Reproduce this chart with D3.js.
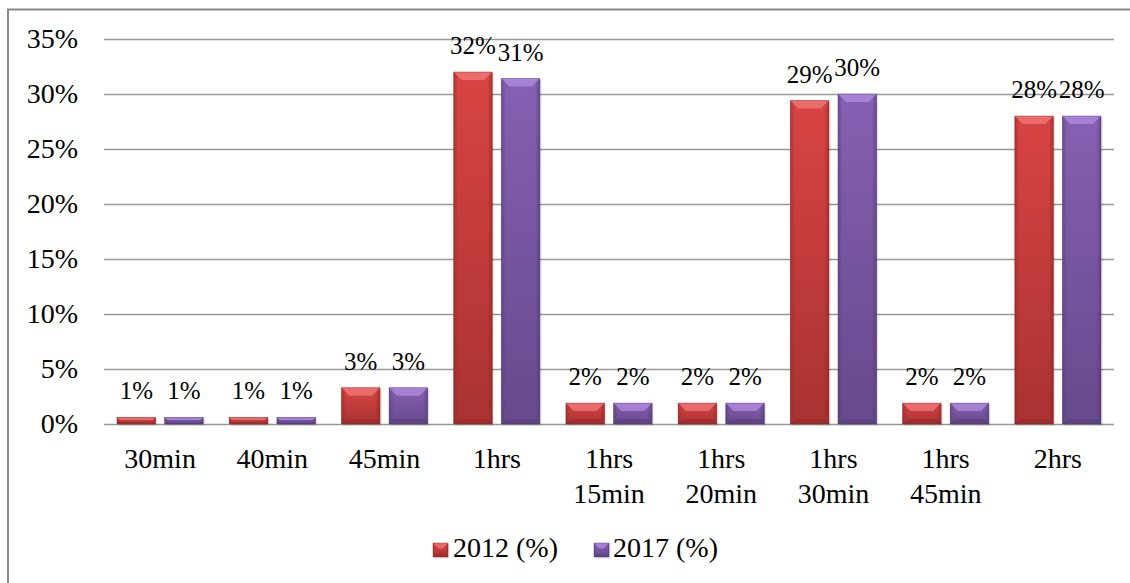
<!DOCTYPE html>
<html><head><meta charset="utf-8">
<script src="https://cdn.jsdelivr.net/npm/d3@7"></script>
</head>
<body style="margin:0;background:#fff">
<svg id="chart" width="1130" height="583"></svg>
<script>
const categories = ["30min","40min","45min","1hrs","1hrs 15min","1hrs 20min","1hrs 30min","1hrs 45min","2hrs"];
const seriesNames = ["2012 (%)","2017 (%)"];
const values2012 = [0.6, 0.6, 3.3, 32.0, 1.9, 1.9, 29.4, 1.9, 28.0];
const values2017 = [0.6, 0.6, 3.3, 31.4, 1.9, 1.9, 30.0, 1.9, 28.0];
const yTicks = [0, 5, 10, 15, 20, 25, 30, 35];

const fontNames = ["Liberation Serif"];
const FONT = fontNames.map(f=>"'"+f+"'").join(",");

const colors = {
  "2012 (%)": {top:"#f07a7a", main1:"#d94444", main2:"#a93232", side:"#8e2626"},
  "2017 (%)": {top:"#b18ce0", main1:"#8660b3", main2:"#664a8c", side:"#523a73"}
};

const svg = d3.select("#chart");
const defs = svg.append("defs");
seriesNames.forEach((s,i)=>{
  const g = defs.append("linearGradient").attr("id","g"+i).attr("x1",0).attr("y1",0).attr("x2",0).attr("y2",1);
  g.append("stop").attr("offset","0%").attr("stop-color",colors[s].main1);
  g.append("stop").attr("offset","100%").attr("stop-color",colors[s].main2);
  const h = defs.append("linearGradient").attr("id","h"+i).attr("x1",0).attr("y1",0).attr("x2",1).attr("y2",0);
  h.append("stop").attr("offset","0%").attr("stop-color",colors[s].side).attr("stop-opacity",0.55);
  h.append("stop").attr("offset","12%").attr("stop-color",colors[s].side).attr("stop-opacity",0);
  h.append("stop").attr("offset","88%").attr("stop-color",colors[s].side).attr("stop-opacity",0);
  h.append("stop").attr("offset","100%").attr("stop-color",colors[s].side).attr("stop-opacity",0.65);
});

svg.append("rect").attr("x",8).attr("y",9.5).attr("width",1140).attr("height",600)
  .attr("fill","none").attr("stroke","#8a8a8a").attr("stroke-width",2);

const left = 104, right = 1114, y0 = 424, yTop = 39;
const x = d3.scaleBand().domain(categories).range([left,right]).paddingInner(0).paddingOuter(0);
const bw = x.bandwidth();
const x1 = d3.scaleBand().domain(seriesNames).range([13, bw-13]).paddingInner(0.19).paddingOuter(0);
const y = d3.scaleLinear().domain([0,35]).range([y0,yTop]);

svg.append("g").selectAll("line").data(yTicks).join("line")
  .attr("x1",left).attr("x2",right)
  .attr("y1",d=>Math.round(y(d))+0.5).attr("y2",d=>Math.round(y(d))+0.5)
  .attr("stroke","#989898").attr("stroke-width",1.3);

svg.append("g").selectAll("text").data(yTicks).join("text")
  .style("font-family",FONT)
  .attr("x",78).attr("y",d=>y(d)+9).attr("text-anchor","end")
  .attr("font-size",28).text(d=>d+"%");

const data = [];
categories.forEach((c,i)=>{
  data.push({cat:c, s:seriesNames[0], si:0, v:values2012[i]});
  data.push({cat:c, s:seriesNames[1], si:1, v:values2017[i]});
});

function drawBevelBar(g, bx, by, w, h, si, s){
  const b = Math.min(8, h/2.6);
  g.append("rect").attr("x",bx+1.5).attr("y",by+1.5).attr("width",w).attr("height",h)
    .attr("fill","#000").attr("opacity",0.12);
  g.append("rect").attr("x",bx).attr("y",by).attr("width",w).attr("height",h).attr("fill","url(#g"+si+")");
  g.append("rect").attr("x",bx).attr("y",by).attr("width",w).attr("height",h).attr("fill","url(#h"+si+")");
  g.append("polygon").attr("points",[[bx,by],[bx+w,by],[bx+w-b,by+b],[bx+b,by+b]].map(p=>p.join(",")).join(" "))
    .attr("fill",colors[s].top).attr("opacity",0.75);
  g.append("polygon").attr("points",[[bx,by+h],[bx+w,by+h],[bx+w-b*0.6,by+h-b*0.6],[bx+b*0.6,by+h-b*0.6]].map(p=>p.join(",")).join(" "))
    .attr("fill",colors[s].side).attr("opacity",0.45);
  g.append("rect").attr("x",bx).attr("y",by).attr("width",w).attr("height",h)
    .attr("fill","none").attr("stroke",colors[s].side).attr("stroke-opacity",0.5).attr("stroke-width",0.8);
}

const barsG = svg.append("g");
data.forEach(d=>{
  const bx = x(d.cat) + x1(d.s);
  const by = y(d.v);
  drawBevelBar(barsG, bx, by, x1.bandwidth(), y0 - by, d.si, d.s);
});

svg.append("g").selectAll("text").data(data).join("text")
  .style("font-family",FONT)
  .attr("x",d=>x(d.cat)+x1(d.s)+x1.bandwidth()/2)
  .attr("y",d=>y(d.v)-18)
  .attr("text-anchor","middle").attr("font-size",25)
  .text(d=>Math.round(d.v)+"%");

const catG = svg.append("g").selectAll("text").data(categories).join("text")
  .style("font-family",FONT)
  .attr("x",d=>x(d)+bw/2).attr("y",468).attr("text-anchor","middle").attr("font-size",28);
catG.each(function(d){
  const parts = d.split(" ");
  d3.select(this).selectAll("tspan").data(parts).join("tspan")
    .attr("x",x(d)+bw/2).attr("dy",(p,i)=>i===0?0:35).text(p=>p);
});

const legendPos = [{sx:433, tx:453},{sx:594, tx:613}];
seriesNames.forEach((s,i)=>{
  const lg = svg.append("g");
  drawBevelBar(lg, legendPos[i].sx, 543, 15, 14, i, s);
  lg.append("text").style("font-family",FONT).attr("x",legendPos[i].tx).attr("y",557).attr("font-size",28).text(s);
});
</script>
</body></html>
